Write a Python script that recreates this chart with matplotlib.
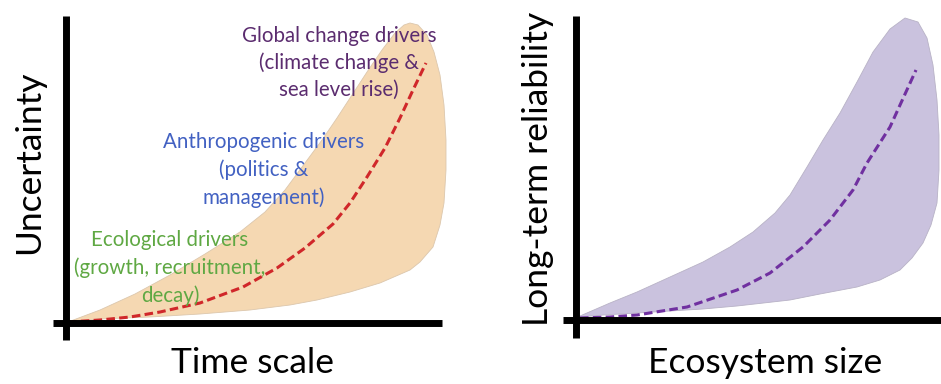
import matplotlib
matplotlib.use("Agg")
import matplotlib.pyplot as plt

# units: pixel offsets from the axis origin (concept diagram, no ticks)

# left panel - uncertainty envelope (upper edge, then right/lower edge back)
time_upper_x = [2, 34, 69, 104, 139, 174, 199, 219, 239, 256, 271, 286, 301, 316, 329, 338, 344]
time_upper_y = [1, 13, 29, 48, 69, 91, 111, 133, 160, 183, 205, 228, 251, 273, 290, 298, 300]
time_lower_x = [352, 361, 368, 374, 378, 380, 380, 378, 374, 367, 354, 344, 314, 284, 251, 224, 184, 134, 84, 34, 2]
time_lower_y = [298, 288, 271, 248, 218, 183, 153, 120, 98, 76, 61, 53, 40, 31, 23, 18, 13, 9, 6, 4, 1]
time_mean_x = [2, 34, 64, 94, 134, 177, 211, 239, 267, 284, 301, 319, 334, 347, 360]
time_mean_y = [1, 3, 6, 11, 20, 36, 55, 75, 99, 120, 146, 175, 205, 233, 260]

# right panel - reliability envelope
eco_upper_x = [4, 34, 61, 94, 127, 154, 177, 199, 214, 231, 247, 264, 281, 297, 314, 329]
eco_upper_y = [4, 17, 28, 43, 58, 73, 88, 107, 125, 153, 180, 207, 238, 268, 291, 302]
eco_lower_x = [342, 351, 357, 361, 363, 363, 361, 355, 347, 336, 324, 304, 281, 244, 214, 161, 127, 94, 61, 27, 4]
eco_lower_y = [298, 282, 255, 220, 185, 150, 117, 95, 77, 62, 50, 40, 33, 26, 20, 14, 11, 9, 7, 5, 3]
eco_mean_x = [4, 34, 61, 111, 161, 194, 227, 254, 277, 291, 314, 340]
eco_mean_y = [2, 3, 5, 13, 30, 47, 73, 100, 130, 157, 193, 250]

drivers = [
    "Global change drivers\n(climate change &\nsea level rise)",
    "Anthropogenic drivers\n(politics &\nmanagement)",
    "Ecological drivers\n(growth, recruitment,\ndecay)",
]
driver_colors = ["#5b2c6f", "#4261c2", "#5fa843"]

plt.rcParams['font.family'] = ['Lato', 'DejaVu Sans']

W, H = 941, 384
fig = plt.figure(figsize=(W / 100, H / 100), dpi=100)


def make_axes(rect, xlim, ylim):
    ax = fig.add_axes(rect)
    ax.set_xlim(*xlim)
    ax.set_ylim(*ylim)
    for s in ['top', 'right']:
        ax.spines[s].set_visible(False)
    ax.spines['left'].set_position(('data', 0))
    ax.spines['bottom'].set_position(('data', 0))
    for s in ['left', 'bottom']:
        ax.spines[s].set_linewidth(5)
        ax.spines[s].set_color('black')
        ax.spines[s].set_zorder(5)
        ax.spines[s].set_capstyle('butt')
    ax.set_xticks([])
    ax.set_yticks([])
    ax.patch.set_alpha(0)
    return ax


# left panel
ax1 = make_axes([53 / W, 44 / H, 389 / W, 324 / H], (-13, 376), (-17, 307))
ax1.fill(time_upper_x + time_lower_x, time_upper_y + time_lower_y,
         color='#f5d8b2', edgecolor='#dcc7ad', linewidth=0.6, zorder=1, clip_on=False)
ax1.plot(time_mean_x, time_mean_y, color='#d0272a', linewidth=2.2,
         linestyle=(0, (2.8, 1.4)), zorder=3, clip_on=False)

txt_kw = dict(fontsize=14.8, ha='center', va='center', linespacing=1.42, zorder=4)
ax1.text(273, 260, drivers[0], color=driver_colors[0], **txt_kw)
ax1.text(198, 153, drivers[1], color=driver_colors[1], **txt_kw)
ax1.text(104, 55, drivers[2], color=driver_colors[2], **txt_kw)

# right panel
ax2 = make_axes([563 / W, 46 / H, 378 / W, 322 / H], (-13, 365), (-18, 304))
ax2.fill(eco_upper_x + eco_lower_x, eco_upper_y + eco_lower_y,
         color='#cac2de', edgecolor='#b8b2c6', linewidth=0.6, zorder=1, clip_on=False)
ax2.plot(eco_mean_x, eco_mean_y, color='#7030a0', linewidth=2.2,
         linestyle=(0, (2.8, 1.4)), zorder=3, clip_on=False)

# axis titles
fig.text(29 / W, 1 - 162 / H, "Uncertainty", rotation=90, fontsize=25.5,
         ha='center', va='center')
fig.text(253 / W, 1 - 363 / H, "Time scale", fontsize=25.5, ha='center', va='center')
fig.text(538 / W, 1 - 169 / H, "Long-term reliability", rotation=90, fontsize=25.5,
         ha='center', va='center')
fig.text(765 / W, 1 - 363 / H, "Ecosystem size", fontsize=25.5, ha='center', va='center')

fig.savefig("out.png", dpi=100)
